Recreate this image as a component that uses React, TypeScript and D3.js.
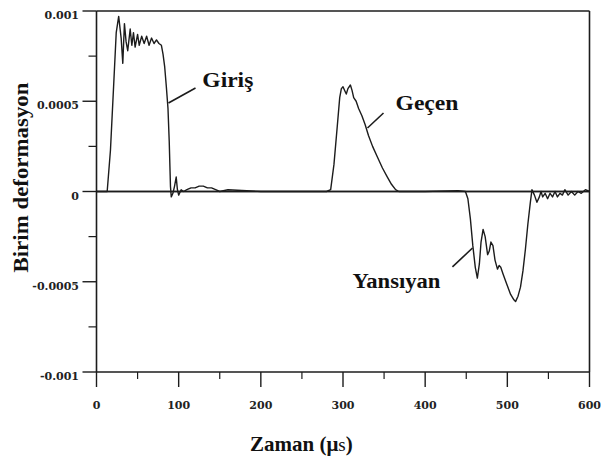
import React from "react";
import * as d3 from "d3";

// Incident + reflected trace (Giriş / Yansıyan), time in µs
const timeA = [
  0, 13, 17, 21, 24, 27, 30, 32, 34, 36, 38, 41, 43, 45, 47, 50, 52, 55, 58, 61, 64, 67, 70, 73, 76, 79, 81, 83, 85, 87,
  88.5, 90, 91, 93, 95, 97, 98.5, 100, 103, 106, 110, 115, 120, 125, 130, 135, 140, 145, 150, 160, 200, 250, 300, 350,
  400, 440, 449, 452, 455, 458, 461, 463.5, 466, 468, 470.5, 473, 476, 478, 480, 482.5, 485, 488, 490, 492, 495, 499,
  504, 508, 510, 513, 516, 519, 522, 525, 528, 530, 533, 536, 539, 541, 543, 546, 549, 552, 555, 558, 561, 564, 567,
  570, 574, 578, 582, 586, 590, 595, 600,
];
const strainA = [
  0, 0, 0.00023, 0.0006, 0.00088, 0.00097, 0.00085, 0.00071, 0.00093, 0.00083, 0.00078, 0.0009, 0.00081, 0.00088,
  0.0008, 0.00087, 0.00081, 0.00086, 0.00082, 0.00086, 0.00081, 0.00085, 0.00082, 0.00084, 0.00082, 0.00081, 0.00076,
  0.00069, 0.00058, 0.00046, 0.00028, 0.00003, -0.00003, -0.00001, 0.00003, 0.00008, 0.00001, -0.00002, 0.00001, 0,
  0.00001, 0.00002, 0.00002, 0.00003, 0.00003, 0.00002, 0.00002, 0.00001, 0, 0.00001, 0, 0, 0, 0, 0, 0.000005, 0,
  -0.00004, -0.00015, -0.0003, -0.00042, -0.00048, -0.0004, -0.00028, -0.00021, -0.00025, -0.00035, -0.00033,
  -0.00028, -0.0003, -0.00038, -0.00043, -0.00041, -0.00042, -0.00046, -0.00051, -0.00057, -0.0006, -0.00061,
  -0.00058, -0.00053, -0.00044, -0.00032, -0.00018, -0.00006, 0.00001, -0.00002, -0.00006, -0.00003, 0, -0.00003,
  -0.00001, -0.00004, -0.00001, -0.00003, 0, -0.00003, -0.00001, -0.00002, 0.00001, -0.00002, 0, -0.00002, 0,
  -0.00001, 0.00001, 0,
];

// Transmitted trace (Geçen)
const timeB = [
  0, 100, 200, 280, 285, 289, 293, 296, 298, 300, 302, 304, 306, 309, 311, 313, 316, 319, 323, 327, 331, 336, 342,
  348, 354, 359, 364, 368, 400, 500, 600,
];
const strainB = [
  0, 0, 0, 0, 0.00001, 0.00015, 0.00036, 0.00052, 0.00057, 0.00058, 0.00056, 0.00054, 0.00057, 0.00059, 0.00056,
  0.00052, 0.0005, 0.00046, 0.00042, 0.00037, 0.00031, 0.00025, 0.00019, 0.00013, 0.00008, 0.00004, 0.00001, 0, 0, 0,
  0,
];

const xTicks = [0, 100, 200, 300, 400, 500, 600];
const xMinorTicks = [50, 150, 250, 350, 450, 550];
const yTicks = [0.001, 0.0005, 0, -0.0005, -0.001];
const yTickLabels = ["0.001", "0.0005", "0", "-0.0005", "-0.001"];
const yMinorTicks = [0.00075, 0.00025, -0.00025, -0.00075];

const annotationLabels = ["Giriş", "Geçen", "Yansıyan"];
const annotationText = [
  [128.8, 0.000578],
  [363.9, 0.000452],
  [311.5, -0.000535],
];
const annotationLineFrom = [
  [87.6, 0.00049],
  [329.8, 0.000352],
  [433.2, -0.000418],
];
const annotationLineTo = [
  [120.5, 0.000573],
  [349.3, 0.000435],
  [457.6, -0.000313],
];
const annotationWidths = [51, 63, 88];

export default function App() {
  const W = 603;
  const H = 461;
  const left = 96.5;
  const right = 589.5;
  const top = 11;
  const bottom = 372;

  const x = d3.scaleLinear().domain([0, 600]).range([left, right]);
  const y = d3.scaleLinear().domain([-0.001, 0.001]).range([bottom, top]);

  const line = d3
    .line<[number, number]>()
    .x((d) => x(d[0]))
    .y((d) => y(d[1]))
    .curve(d3.curveLinear);

  const dataA = timeA.map((t, i) => [t, strainA[i]] as [number, number]);
  const dataB = timeB.map((t, i) => [t, strainB[i]] as [number, number]);

  const ink = "#1c1c1c";
  const tickFont = "'DejaVu Serif', serif";
  const titleFont = "'Liberation Serif', 'Times New Roman', serif";

  return (
    <svg
      width={W}
      height={H}
      viewBox={`0 0 ${W} ${H}`}
      style={{ position: "absolute", left: 0, top: 0, background: "#fff" }}
    >
      <rect x={0} y={0} width={W} height={H} fill="#fff" />
      {/* frame */}
      <line x1={left} x2={right} y1={top} y2={top} stroke={ink} strokeWidth={1.6} />
      <line x1={right} x2={right} y1={top} y2={bottom} stroke={ink} strokeWidth={1.6} />
      <line x1={left} x2={right} y1={bottom} y2={bottom} stroke={ink} strokeWidth={1.6} />
      <line x1={left} x2={left} y1={top} y2={bottom} stroke={ink} strokeWidth={1.6} />

      {/* x ticks */}
      {xTicks.map((t) => (
        <g key={"xt" + t}>
          <line x1={x(t)} x2={x(t)} y1={bottom} y2={bottom + 15} stroke={ink} strokeWidth={1.4} />
          <text
            x={x(t)}
            y={409}
            textAnchor="middle"
            fontFamily={tickFont}
            fontWeight="bold"
            fontSize={11}
            fill="#222"
          >
            {t}
          </text>
        </g>
      ))}
      {xMinorTicks.map((t) => (
        <line key={"xm" + t} x1={x(t)} x2={x(t)} y1={bottom} y2={bottom + 7} stroke={ink} strokeWidth={1.2} />
      ))}

      {/* y ticks */}
      {yTicks.map((v, i) => (
        <g key={"yt" + v}>
          <line x1={left - 14} x2={left} y1={y(v)} y2={y(v)} stroke={ink} strokeWidth={1.4} />
          <text
            x={79}
            y={y(v) + 8}
            textAnchor="end"
            fontFamily={tickFont}
            fontWeight="bold"
            fontSize={11}
            fill="#222"
          >
            {yTickLabels[i]}
          </text>
        </g>
      ))}
      {yMinorTicks.map((v) => (
        <line key={"ym" + v} x1={left - 8} x2={left} y1={y(v)} y2={y(v)} stroke={ink} strokeWidth={1.2} />
      ))}

      {/* zero baseline */}
      <line x1={left} x2={right} y1={y(0)} y2={y(0)} stroke={ink} strokeWidth={1.4} />

      {/* traces */}
      <path d={line(dataA) || ""} fill="none" stroke={ink} strokeWidth={1.4} strokeLinejoin="round" />
      <path d={line(dataB) || ""} fill="none" stroke={ink} strokeWidth={1.4} strokeLinejoin="round" />

      {/* annotations */}
      {annotationLabels.map((lab, i) => (
        <g key={"an" + i}>
          <line
            x1={x(annotationLineFrom[i][0])}
            y1={y(annotationLineFrom[i][1])}
            x2={x(annotationLineTo[i][0])}
            y2={y(annotationLineTo[i][1])}
            stroke={ink}
            strokeWidth={1.6}
          />
          <text
            x={x(annotationText[i][0])}
            y={y(annotationText[i][1])}
            fontFamily={titleFont}
            fontWeight="bold"
            fontSize={20}
            textLength={annotationWidths[i]}
            lengthAdjust="spacingAndGlyphs"
            fill="#111"
          >
            {lab}
          </text>
        </g>
      ))}

      {/* axis titles */}
      <text
        transform={`translate(28, ${(82 + 273) / 2}) rotate(-90)`}
        textAnchor="middle"
        fontFamily={titleFont}
        fontWeight="bold"
        fontSize={21}
        textLength={190}
        lengthAdjust="spacingAndGlyphs"
        fill="#111"
      >
        Birim deformasyon
      </text>
      <text x={250} y={451} fontFamily={titleFont} fontWeight="bold" fontSize={21} fill="#111">
        Zaman (μ<tspan fontWeight="normal" fontSize={19}>s</tspan>)
      </text>
    </svg>
  );
}
